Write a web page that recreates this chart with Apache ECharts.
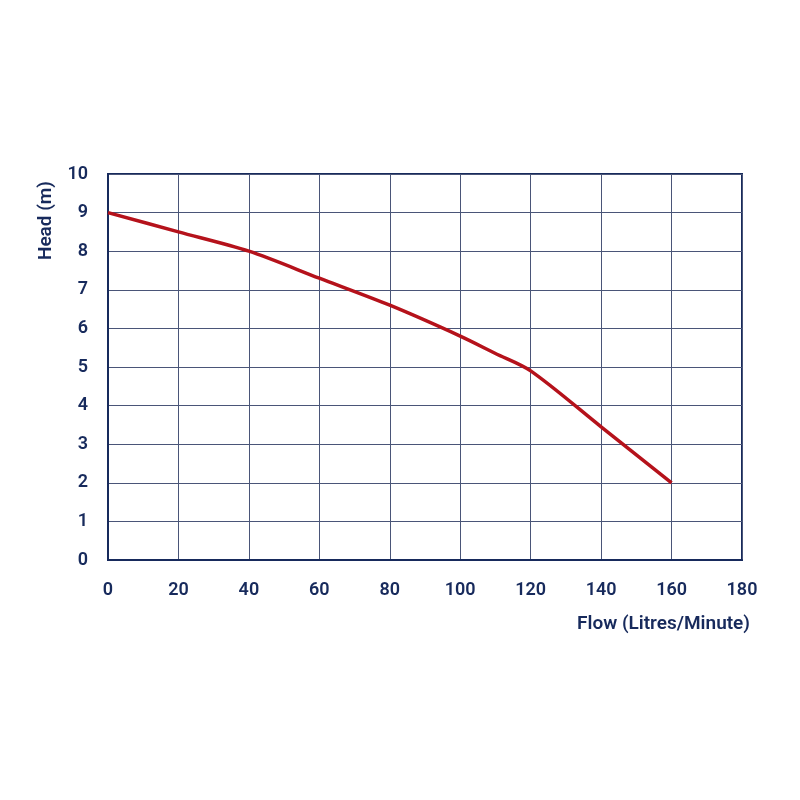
<!DOCTYPE html>
<html><head><meta charset="utf-8">
<script src="https://cdn.jsdelivr.net/npm/echarts@6/dist/echarts.min.js"></script>
<style>html,body{margin:0;padding:0;background:#fff}#c{width:800px;height:800px}</style>
</head><body><div id="c"></div>
<script>
const flow = [0, 20, 40, 60, 80, 100, 110, 120, 140, 160];
const head = [9, 8.5, 8, 7.3, 6.6, 5.8, 5.35, 4.9, 3.45, 2];
const xTitle = 'Flow (Litres/Minute)';
const yTitle = 'Head (m)';
const navy = '#172a5c';
const font = 'Roboto';
const chart = echarts.init(document.getElementById('c'));
chart.setOption({
  animation: false,
  backgroundColor: '#fff',
  grid: {left: 108, right: 58, top: 174, bottom: 240, show: true, borderColor: navy, borderWidth: 2},
  xAxis: {
    type: 'value', min: 0, max: 180, interval: 20,
    axisLine: {show: true, lineStyle: {color: navy, width: 2}},
    axisTick: {show: false},
    splitLine: {show: true, lineStyle: {color: '#4a5578', width: 1}},
    axisLabel: {color: navy, fontFamily: font, fontWeight: 600, fontSize: 18, margin: 21},
    name: xTitle, nameLocation: 'end', nameGap: 8,
    nameTextStyle: {color: navy, fontFamily: font, fontWeight: 600, fontSize: 19, align: 'right', verticalAlign: 'top', padding: [55, 0, 0, 0]}
  },
  yAxis: {
    type: 'value', min: 0, max: 10, interval: 1,
    axisLine: {show: true, lineStyle: {color: navy, width: 2}},
    axisTick: {show: false},
    splitLine: {show: true, lineStyle: {color: '#4a5578', width: 1}},
    axisLabel: {color: navy, fontFamily: font, fontWeight: 600, fontSize: 18, margin: 20}
  },
  graphic: [{
    type: 'text', left: 37, top: 181, rotation: Math.PI / 2,
    style: {text: yTitle, fill: navy, font: '600 19px Roboto'}
  }],
  series: [{
    type: 'line', data: flow.map((f, i) => [f, head[i]]), smooth: 0.3,
    showSymbol: false, lineStyle: {color: '#b5121b', width: 3.5}
  }]
});
</script></body></html>
